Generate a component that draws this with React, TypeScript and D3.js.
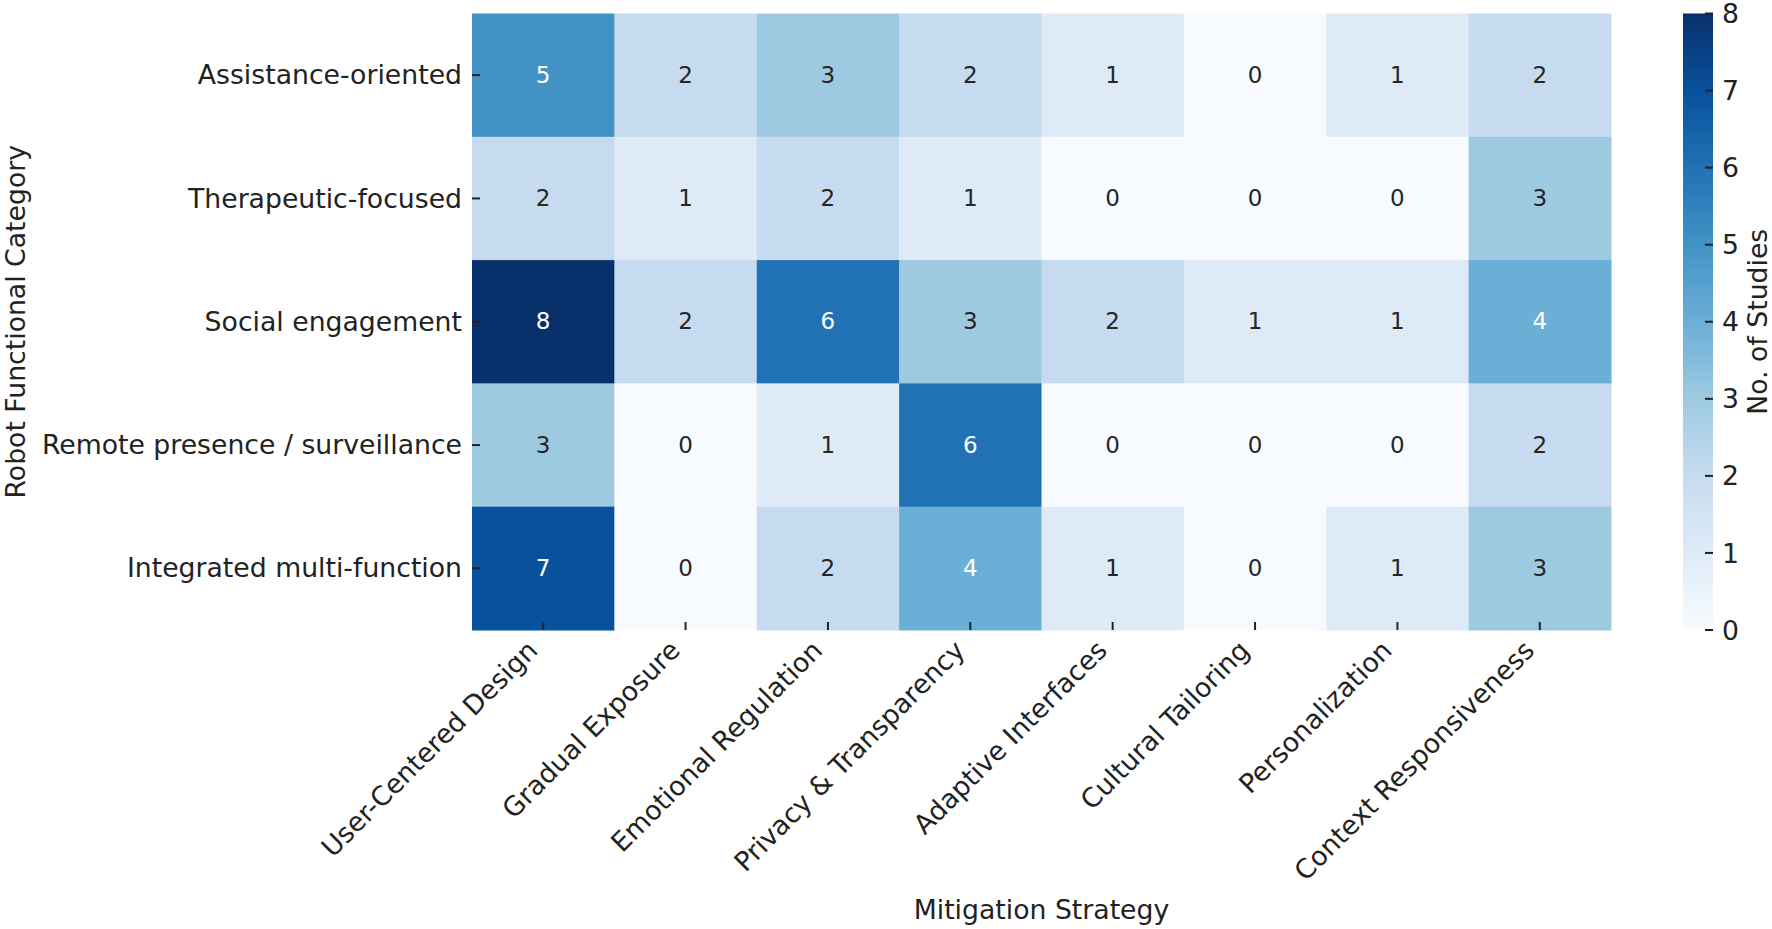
import React from "react";
import * as d3 from "d3";

const categories = [
  "Assistance-oriented",
  "Therapeutic-focused",
  "Social engagement",
  "Remote presence / surveillance",
  "Integrated multi-function",
];

const strategies = [
  "User-Centered Design",
  "Gradual Exposure",
  "Emotional Regulation",
  "Privacy & Transparency",
  "Adaptive Interfaces",
  "Cultural Tailoring",
  "Personalization",
  "Context Responsiveness",
];

// rows follow categories, columns follow strategies
const assistance = [5, 2, 3, 2, 1, 0, 1, 2];
const therapeutic = [2, 1, 2, 1, 0, 0, 0, 3];
const social = [8, 2, 6, 3, 2, 1, 1, 4];
const remote = [3, 0, 1, 6, 0, 0, 0, 2];
const integrated = [7, 0, 2, 4, 1, 0, 1, 3];
const counts = [assistance, therapeutic, social, remote, integrated];

const colorTicks = [0, 1, 2, 3, 4, 5, 6, 7, 8];

const W = 1772;
const H = 929;
const left = 472;
const right = 1611;
const top = 13.5;
const bottom = 630;
const cbLeft = 1683;
const cbRight = 1713;

const FONT = "'DejaVu Sans', sans-serif";
const INK = "#222222";

// same as matplotlib's Blues (linear between the 9 ColorBrewer stops)
const blues = d3.schemeBlues[9];
const color = d3
  .scaleLinear<string>()
  .domain(blues.map((_, i) => (i / (blues.length - 1)) * 8))
  .range(blues)
  .interpolate(d3.interpolateRgb)
  .clamp(true);

const luminance = (c: string) => {
  const rgb = d3.rgb(c);
  const lin = (v: number) => {
    const s = v / 255;
    return s <= 0.03928 ? s / 12.92 : Math.pow((s + 0.055) / 1.055, 2.4);
  };
  return 0.2126 * lin(rgb.r) + 0.7152 * lin(rgb.g) + 0.0722 * lin(rgb.b);
};

export default function App() {
  const x = d3.scaleBand().domain(strategies).range([left, right]);
  const y = d3.scaleBand().domain(categories).range([top, bottom]);
  const cb = d3.scaleLinear().domain([0, 8]).range([bottom, top]);

  const cells = categories.flatMap((cat, r) =>
    strategies.map((s, c) => {
      const v = counts[r][c];
      const fill = color(v);
      const cx = (x(s) ?? 0) + x.bandwidth() / 2;
      const cy = (y(cat) ?? 0) + y.bandwidth() / 2;
      return (
        <g key={`cell/${r}/${c}`}>
          <rect
            x={x(s)}
            y={y(cat)}
            width={x.bandwidth() + 0.5}
            height={y.bandwidth() + 0.5}
            fill={fill}
          />
          <text
            x={cx}
            y={cy}
            dy="0.33em"
            textAnchor="middle"
            fontSize={23}
            fill={luminance(fill) > 0.408 ? "#262626" : "#ffffff"}
          >
            {v}
          </text>
        </g>
      );
    })
  );

  const xTicks = strategies.map((s) => {
    const tx = (x(s) ?? 0) + x.bandwidth() / 2;
    return (
      <g key={`xt/${s}`}>
        <line x1={tx} x2={tx} y1={bottom} y2={bottom - 8} stroke={INK} strokeWidth={2} />
        <text
          transform={`translate(${tx - 4},${bottom + 22}) rotate(-45)`}
          textAnchor="end"
          fontSize={26.7}
          fill={INK}
        >
          {s}
        </text>
      </g>
    );
  });

  const yTicks = categories.map((cat) => {
    const ty = (y(cat) ?? 0) + y.bandwidth() / 2;
    return (
      <g key={`yt/${cat}`}>
        <line x1={left} x2={left + 8} y1={ty} y2={ty} stroke={INK} strokeWidth={2} />
        <text x={462} y={ty} dy="0.34em" textAnchor="end" fontSize={26.7} fill={INK}>
          {cat}
        </text>
      </g>
    );
  });

  const cbTicks = colorTicks.map((t) => (
    <g key={`cb/${t}`}>
      <line x1={cbRight - 8} x2={cbRight} y1={cb(t)} y2={cb(t)} stroke={INK} strokeWidth={2} />
      <text x={1722} y={cb(t)} dy="0.36em" fontSize={26.7} fill={INK}>
        {t}
      </text>
    </g>
  ));

  return (
    <svg
      width={W}
      height={H}
      style={{ position: "absolute", left: 0, top: 0, background: "#ffffff" }}
      fontFamily={FONT}
    >
      <defs>
        <linearGradient id="cbGrad" x1="0" y1="1" x2="0" y2="0">
          {blues.map((b, i) => (
            <stop key={b} offset={i / (blues.length - 1)} stopColor={b} />
          ))}
        </linearGradient>
      </defs>
      {cells}
      {xTicks}
      {yTicks}
      <rect x={cbLeft} y={top} width={cbRight - cbLeft} height={bottom - top} fill="url(#cbGrad)" />
      {cbTicks}
      <text x={(left + right) / 2} y={919} textAnchor="middle" fontSize={26.7} fill={INK}>
        Mitigation Strategy
      </text>
      <text
        transform={`translate(25,${(top + bottom) / 2}) rotate(-90)`}
        textAnchor="middle"
        fontSize={26.7}
        fill={INK}
      >
        Robot Functional Category
      </text>
      <text
        transform={`translate(1767,${(top + bottom) / 2}) rotate(-90)`}
        textAnchor="middle"
        fontSize={26.7}
        fill={INK}
      >
        No. of Studies
      </text>
    </svg>
  );
}
